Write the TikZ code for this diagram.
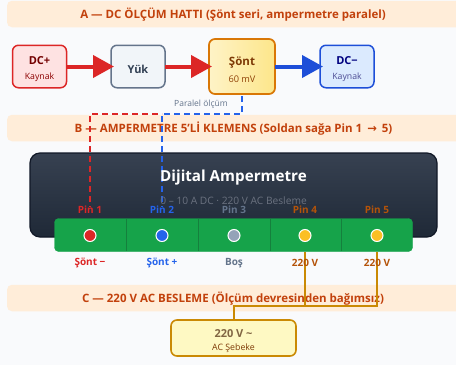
\documentclass[tikz,border=0pt]{standalone}
\usepackage{fontspec}
\setmainfont{Open Sans}
\newfontfamily\arrowfont{DejaVu Sans}
\usetikzlibrary{arrows.meta,calc}
\definecolor{pagebg}{HTML}{F9FAFC}
\definecolor{bandbg}{HTML}{FFEDD9}
\definecolor{bandtx}{HTML}{C2410C}
\definecolor{cred}{HTML}{DC2626}
\definecolor{cblue}{HTML}{1D4ED8}
\definecolor{cblue2}{HTML}{2563EB}
\definecolor{cgrey}{HTML}{64748B}
\definecolor{cdark}{HTML}{334155}
\definecolor{amberb}{HTML}{D97706}
\definecolor{wire}{HTML}{CA8A04}
\definecolor{pinor}{HTML}{B45309}
\definecolor{barg}{HTML}{16A34A}
\definecolor{bard}{HTML}{15803D}
\definecolor{headtop}{HTML}{374151}
\definecolor{headbot}{HTML}{1F2937}
\definecolor{headline}{HTML}{111827}
\definecolor{redbg}{HTML}{FEE2E2}
\definecolor{bluebg}{HTML}{DBEAFE}
\definecolor{slatebg}{HTML}{F1F5F9}
\definecolor{yelbg}{HTML}{FEF9C3}
\definecolor{yel1}{HTML}{FEF3C7}
\definecolor{yel2}{HTML}{FDE68A}
\definecolor{pinyel}{HTML}{FBBF24}
\definecolor{pingrey}{HTML}{94A3B8}
\definecolor{subgrey}{HTML}{6B7280}
\tikzset{
 x=1pt,y=-1pt,
 every node/.style={inner sep=0pt,outer sep=0pt,align=center},
 band/.style={fill=bandbg,rounded corners=5pt,minimum width=470pt,minimum height=26.5pt,anchor=west},
 bandtext/.style={font=\bfseries\fontsize{11.5}{13}\selectfont,text=bandtx},
 srcbox/.style={draw,line width=1.5pt,rounded corners=6pt,minimum width=54pt,minimum height=42.5pt},
 flow/.style={line width=4pt,-{Triangle[length=21pt,width=22pt]},shorten >=-3pt},
 dashwire/.style={line width=2pt,dash pattern=on 6pt off 4pt,dash phase=5pt},
 pinlabel/.style={font=\bfseries\fontsize{10}{12}\selectfont},
 slot/.style={circle,draw=white,line width=1pt,minimum size=12pt},
 acwire/.style={draw=wire,line width=2pt},
 divider/.style={draw=bard,line width=0.8pt},
}
\newcommand{\mainlab}[1]{\rule{0pt}{14pt}{\bfseries\fontsize{11}{13}\selectfont #1}}
\newcommand{\sublab}[1]{{\fontsize{8.7}{10}\selectfont #1}}
\begin{document}
\begin{tikzpicture}
\useasboundingbox (0,0) rectangle (456,365);
\fill[pagebg] (0,0) rectangle (456,365);
% bands
\node[band] (ba) at (7,14) {};
\node[band] (bb) at (7,128) {};
\node[band] (bc) at (7,298) {};
\node[bandtext] (ta) at (233,15) {A — DC ÖLÇÜM HATTI (Şönt seri, ampermetre paralel)};
\node[bandtext] (tb) at (233.5,128.5) {B — AMPERMETRE 5'Lİ KLEMENS (Soldan sağa Pin 1\hspace{2pt} {\arrowfont →}\hspace{2pt} 5)};
\node[bandtext] (tc) at (233,299) {C — 220 V AC BESLEME (Ölçüm devresinden bağımsız)};
% panel
\node[draw=headline,line width=1.2pt,rounded corners=10pt,minimum width=407pt,minimum height=84pt,
  top color=headtop,bottom color=headbot] (panel) at (233.5,195) {};
% top row
\node[srcbox,draw=cred,fill=redbg] (dcp) at (39.5,66.5) {\textcolor{red!45!black}{\mainlab{DC+}}\\[3pt]\textcolor{red!55!black}{\sublab{Kaynak}}};
\node[srcbox,draw=cgrey,fill=slatebg] (yuk) at (138,66.5) {\textcolor{cdark}{\mainlab{Yük}}};
\node[srcbox,draw=amberb,line width=1.7pt,left color=yel1,right color=yel2,minimum width=66pt,minimum height=55pt] (sont) at (242,66.5) {\rule{0pt}{15pt}\textcolor{black!30!pinor}{\bfseries\fontsize{11.5}{13}\selectfont Şönt}\\[5pt]\textcolor{pinor!80!black}{\fontsize{9.2}{11}\selectfont 60 mV}};
\node[srcbox,draw=cblue,fill=bluebg] (dcm) at (347,66.5) {\textcolor{blue!50!black}{\mainlab{DC−}}\\[3pt]\textcolor{blue!40!black!70}{\sublab{Kaynak}}};
\draw[flow,draw=cred,fill=cred] (dcp) -- (yuk);
\draw[flow,draw=cred,fill=cred] (yuk) -- (sont);
\draw[flow,draw=cblue,fill=cblue] (sont) -- (dcm);
\node[font=\fontsize{8.5}{10}\selectfont,text=cgrey] (par) at (201,104.5) {Paralel ölçüm};
% dashed measuring wires
\coordinate (dashR) at (90,114);
\coordinate (dashB) at (162,114);
\coordinate (pinA) at (90,207);
\coordinate (pinB) at (162,207);
\draw[dashwire,draw=cred] (pinA) -- (dashR) -- (dashB);
\draw[dashwire,draw=cblue2] (pinB) -- (dashB) -- (dashB -| sont.south) -- (sont.south);
% panel text
\node[font=\bfseries\fontsize{15.2}{18}\selectfont,text=white] (title) at (233.5,178) {Dijital Ampermetre};
\node[font=\fontsize{10.2}{12}\selectfont,text=subgrey] (sub) at (233.5,200.5) {0 – 10 A DC · 220 V AC Besleme};
% terminal bar
\node[fill=barg,draw=barg,rounded corners=4pt,minimum width=358pt,minimum height=33pt] (bar) at (233.5,235) {};
\foreach \x in {126,198,270,341}{\draw[divider] (\x,219) -- (\x,251);}
\node[slot,fill=cred] (p1) at (90,235.5) {};
\node[slot,fill=cblue2] (p2) at (162,235.5) {};
\node[slot,fill=pingrey] (p3) at (234,235.5) {};
\node[slot,fill=pinyel] (p4) at (305,235.5) {};
\node[slot,fill=pinyel] (p5) at (377,235.5) {};
\node[pinlabel,text=cred] (l1) at (90,209.5) {Pin 1};
\node[pinlabel,text=cblue2] (l2) at (162,209.5) {Pin 2};
\node[pinlabel,text=cgrey] (l3) at (234,209.5) {Pin 3};
\node[pinlabel,text=pinor] (l4) at (305,209.5) {Pin 4};
\node[pinlabel,text=pinor] (l5) at (377,209.5) {Pin 5};
% AC source and wires
\node[draw=wire,line width=1.6pt,fill=yelbg,rounded corners=6pt,minimum width=125pt,minimum height=36pt] (ac) at (233.5,338) {\rule{0pt}{14pt}\textcolor{yellow!30!black!80!red}{\bfseries\fontsize{11}{13}\selectfont 220 V \textasciitilde}\\[1pt]\textcolor{pinor!70!black}{\fontsize{8.8}{10}\selectfont AC Şebeke}};
\coordinate (acbus) at (233.5,305.5);
\draw[acwire] (p4 |- bar.south) -- (p4 |- acbus);
\draw[acwire] (p5 |- bar.south) -- (p5 |- acbus) -- (acbus) -- (ac.north);
% bottom labels
\node[pinlabel,text=cred] (f1) at (90,263) {Şönt −};
\node[pinlabel,text=cblue2] (f2) at (162,263) {Şönt +};
\node[pinlabel,text=cgrey] (f3) at (234,263) {Boş};
\node[pinlabel,text=pinor] (f4) at (305,263) {220 V};
\node[pinlabel,text=pinor] (f5) at (377,263) {220 V};
\end{tikzpicture}
\end{document}
